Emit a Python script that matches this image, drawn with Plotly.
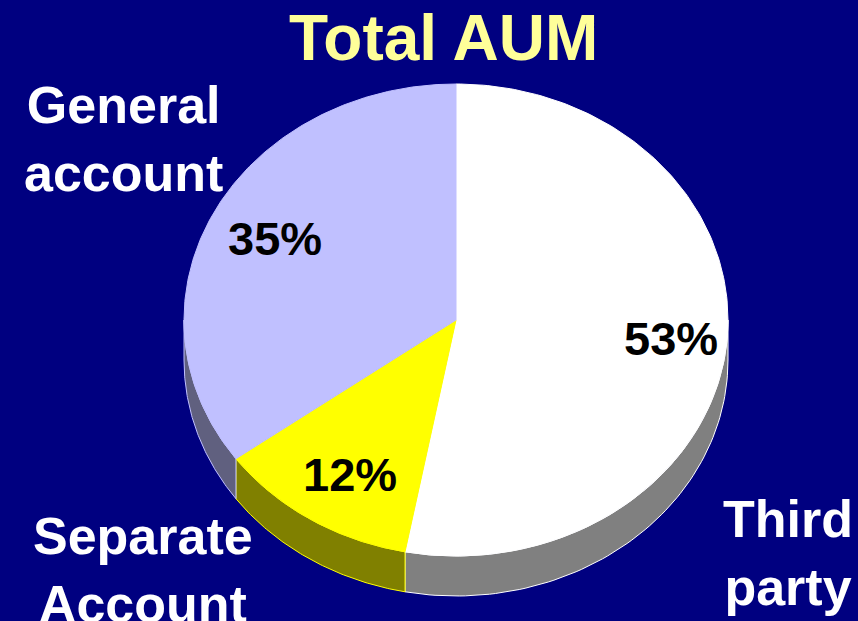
import numpy as np
import plotly.graph_objects as go

# ---- data ----
labels = ["Third<br>party", "Separate<br>Account", "General<br>account"]
values = [53, 12, 35]
top_colors = ["#FFFFFF", "#FFFF00", "#C0C0FF"]
side_colors = ["#808080", "#808000", "#60607F"]
title_text = "Total AUM"

# ---- geometry (in axis units: 1 unit = radius) ----
W, H = 858, 621
cx_px, cy_px, rx_px, ry_px = 456, 320, 272, 236
depth = 40 / ry_px

fig = go.Figure()

total = sum(values)
bounds = np.concatenate([[0], np.cumsum(values)]) / total * 360.0  # clockwise from top

def pt(theta_deg, r=1.0, dy=0.0):
    t = np.radians(theta_deg)
    return r * np.sin(t), r * np.cos(t) + dy

# side walls (front half: 90..270 deg)
for i in range(len(values)):
    a, b = max(bounds[i], 90), min(bounds[i + 1], 270)
    if b <= a:
        continue
    th = np.linspace(a, b, 80)
    xt, yt = pt(th)
    xb, yb = pt(th[::-1], dy=-depth)
    fig.add_trace(go.Scatter(
        x=np.concatenate([xt, xb, xt[:1]]), y=np.concatenate([yt, yb, yt[:1]]),
        fill="toself", fillcolor=side_colors[i], mode="lines",
        line=dict(color=top_colors[i], width=1), hoverinfo="skip", showlegend=False))

# top surfaces
for i in range(len(values)):
    th = np.linspace(bounds[i], bounds[i + 1], 200)
    xs, ys = pt(th)
    fig.add_trace(go.Scatter(
        x=np.concatenate([[0], xs, [0]]), y=np.concatenate([[0], ys, [0]]),
        fill="toself", fillcolor=top_colors[i], mode="lines",
        line=dict(color=top_colors[i], width=1), hoverinfo="skip", showlegend=False))

# percentage labels
for i, v in enumerate(values):
    mid = (bounds[i] + bounds[i + 1]) / 2
    x, y = pt(mid, r=0.77)
    fig.add_annotation(x=x, y=y, xref="x", yref="y", text=f"{v}%", showarrow=False,
                       xshift=6, yshift=-1,
                       font=dict(family="Liberation Sans, Arial", size=47, color="black", weight="bold"))

# category labels
label_pos = [(788, 553), (143, 570), (123, 139)]
for lab, (px, py) in zip(labels, label_pos):
    fig.add_annotation(x=px / W, y=1 - py / H, xref="paper", yref="paper", text=lab,
                       showarrow=False, xanchor="center", yanchor="middle",
                       font=dict(family="Liberation Sans, Arial", size=52, color="white", weight="bold"))

fig.add_annotation(x=443 / W, y=1 - 38 / H, xref="paper", yref="paper", text=title_text,
                   showarrow=False, xanchor="center", yanchor="middle",
                   font=dict(family="Liberation Sans, Arial", size=64, color="#FFFF99", weight="bold"))

fig.update_layout(
    width=W, height=H, margin=dict(l=0, r=0, t=0, b=0),
    paper_bgcolor="#000080", plot_bgcolor="#000080",
    xaxis=dict(range=[-cx_px / rx_px, (W - cx_px) / rx_px], visible=False, fixedrange=True),
    yaxis=dict(range=[-(H - cy_px) / ry_px, cy_px / ry_px], visible=False, fixedrange=True),
)

fig.write_html("out.html", config={"displayModeBar": False},
               post_script="document.body.style.margin='0';document.body.style.overflow='hidden';document.body.style.background='#000080';")
